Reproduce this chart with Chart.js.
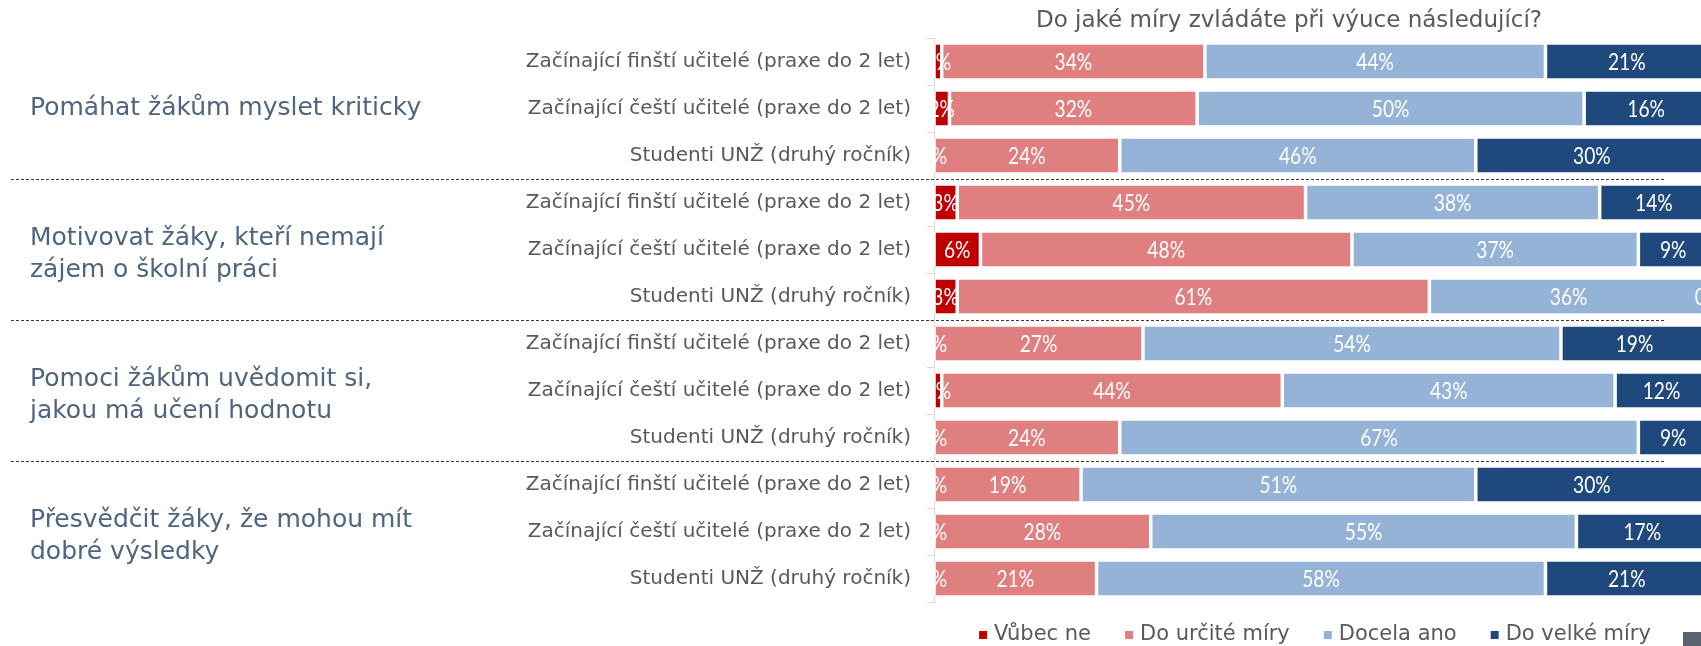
<!DOCTYPE html>
<html>
<head>
<meta charset="utf-8">
<script src="https://cdn.jsdelivr.net/npm/chart.js@4.4.0/dist/chart.umd.min.js"></script>
<style>
  html, body { margin: 0; padding: 0; background: #fff; overflow: hidden; }
  #wrap { position: relative; width: 1712px; height: 646px; }
  #corner { position: absolute; left: 1683px; top: 632px; width: 20px; height: 14px; background: #5a6270; }
</style>
</head>
<body>
<div id="wrap">
  <canvas id="chart" width="1712" height="646"></canvas>
  <div id="corner"></div>
</div>
<script>
const categories = [
  "Začínající finští učitelé (praxe do 2 let)",
  "Začínající čeští učitelé (praxe do 2 let)",
  "Studenti UNŽ (druhý ročník)",
  "Začínající finští učitelé (praxe do 2 let)",
  "Začínající čeští učitelé (praxe do 2 let)",
  "Studenti UNŽ (druhý ročník)",
  "Začínající finští učitelé (praxe do 2 let)",
  "Začínající čeští učitelé (praxe do 2 let)",
  "Studenti UNŽ (druhý ročník)",
  "Začínající finští učitelé (praxe do 2 let)",
  "Začínající čeští učitelé (praxe do 2 let)",
  "Studenti UNŽ (druhý ročník)"
];
const groupLabels = [
  ["Pomáhat žákům myslet kriticky"],
  ["Motivovat žáky, kteří nemají", "zájem o školní práci"],
  ["Pomoci žákům uvědomit si,", "jakou má učení hodnotu"],
  ["Přesvědčit žáky, že mohou mít", "dobré výsledky"]
];
const seriesNames = ["Vůbec ne", "Do určité míry", "Docela ano", "Do velké míry"];
const vubecNe      = [1, 2, 0, 3, 6, 3, 0, 1, 0, 0, 0, 0];
const doUrciteMiry = [34, 32, 24, 45, 48, 61, 27, 44, 24, 19, 28, 21];
const docelaAno    = [44, 50, 46, 38, 37, 36, 54, 43, 67, 51, 55, 58];
const doVelkeMiry  = [21, 16, 30, 14, 9, 0, 19, 12, 9, 30, 17, 21];
const colors = ["#c00000", "#e07f7f", "#95b3d7", "#1f497d"];
const chartTitle = "Do jaké míry zvládáte při výuce následující?";

const seriesValues = [vubecNe, doUrciteMiry, docelaAno, doVelkeMiry];

const decorations = {
  id: 'decorations',
  afterDatasetsDraw(chart) {
    const {ctx, chartArea} = chart;

    // value labels inside bars (narrow look)
    ctx.save();
    ctx.beginPath();
    ctx.rect(chartArea.left, chartArea.top, chartArea.right - chartArea.left, chartArea.bottom - chartArea.top);
    ctx.clip();
    ctx.fillStyle = '#ffffff';
    ctx.font = '24px Lato, sans-serif';
    ctx.textAlign = 'center';
    ctx.textBaseline = 'middle';
    const sx = 0.8;
    chart.data.datasets.forEach((ds, di) => {
      chart.getDatasetMeta(di).data.forEach((bar, i) => {
        const cx = (bar.x + bar.base) / 2;
        ctx.save();
        ctx.translate(cx, bar.y + 1);
        ctx.scale(sx, 1);
        ctx.fillText(ds.data[i] + '%', 0, 0);
        ctx.restore();
      });
    });
    ctx.restore();
  },
  afterDraw(chart) {
    const {ctx} = chart;
    const yScale = chart.scales.y;

    // dashed separators between groups
    ctx.save();
    ctx.strokeStyle = '#3a3a3a';
    ctx.lineWidth = 1;
    ctx.setLineDash([3, 2]);
    [2.5, 5.5, 8.5].forEach(v => {
      const y = Math.round(yScale.getPixelForValue(v)) + 0.5;
      ctx.beginPath();
      ctx.moveTo(11, y);
      ctx.lineTo(1665, y);
      ctx.stroke();
    });
    ctx.restore();

    // group labels
    ctx.save();
    ctx.fillStyle = '#4e6580';
    ctx.font = '25px "DejaVu Sans", sans-serif';
    ctx.textAlign = 'left';
    ctx.textBaseline = 'middle';
    groupLabels.forEach((lines, g) => {
      const yc = yScale.getPixelForValue(g * 3 + 1) + (g === 0 ? 0 : 5);
      const lh = 32;
      const y0 = yc - (lines.length - 1) * lh / 2;
      lines.forEach((t, k) => ctx.fillText(t, 30, y0 + k * lh));
    });
    ctx.restore();

    // title
    ctx.save();
    ctx.fillStyle = '#595959';
    ctx.font = '23px "DejaVu Sans", sans-serif';
    ctx.textAlign = 'center';
    ctx.textBaseline = 'middle';
    ctx.fillText(chartTitle, 1289, 21);
    ctx.restore();

    // legend
    ctx.save();
    ctx.font = '21px "DejaVu Sans", sans-serif';
    ctx.textBaseline = 'middle';
    ctx.textAlign = 'left';
    const box = 8, gapIn = 7, gapOut = 34;
    const widths = chart.data.datasets.map(ds => box + gapIn + ctx.measureText(ds.label).width);
    const total = widths.reduce((a, b) => a + b, 0) + gapOut * (widths.length - 1);
    let x = 1315 - total / 2;
    const ly = 635;
    chart.data.datasets.forEach((ds, i) => {
      ctx.fillStyle = ds.backgroundColor;
      ctx.fillRect(x, ly - box / 2, box, box);
      ctx.fillStyle = '#595959';
      ctx.fillText(ds.label, x + box + gapIn, ly);
      x += widths[i] + gapOut;
    });
    ctx.restore();
  }
};

new Chart(document.getElementById('chart'), {
  type: 'bar',
  data: {
    labels: categories,
    datasets: seriesNames.map((name, i) => ({
      label: name,
      data: seriesValues[i],
      backgroundColor: colors[i],
      borderColor: '#ffffff',
      borderWidth: {left: 1.75, right: 1.75, top: 0, bottom: 0},
      borderSkipped: false,
      barPercentage: 0.72,
      categoryPercentage: 1.0
    }))
  },
  options: {
    indexAxis: 'y',
    responsive: false,
    animation: false,
    layout: {padding: {top: 38, bottom: 44, left: 0, right: 4}},
    scales: {
      x: {stacked: true, min: 0, max: 100, display: false},
      y: {
        stacked: true,
        afterFit(scale) { scale.width = 934; },
        grid: {drawOnChartArea: false, tickLength: 7, color: '#d9d9d9'},
        border: {color: '#d9d9d9'},
        ticks: {color: '#595959', font: {family: '"DejaVu Sans"', size: 20}, padding: 16}
      }
    },
    plugins: {
      legend: {display: false},
      tooltip: {enabled: false}
    }
  },
  plugins: [decorations]
});
</script>
</body>
</html>
